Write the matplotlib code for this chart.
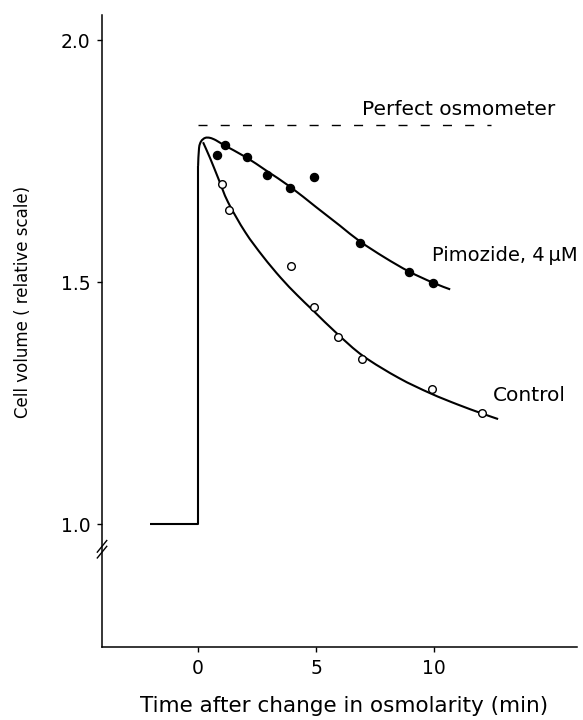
import matplotlib
matplotlib.use("Agg")
import matplotlib.pyplot as plt
from matplotlib.path import Path
from matplotlib.patches import PathPatch

# Measured cell volumes (relative scale) after the change in osmolarity
pim_t = [0.79, 1.12, 2.06, 2.91, 3.90, 4.90, 6.86, 8.93, 9.94]
pim_v = [1.762, 1.783, 1.758, 1.722, 1.695, 1.718, 1.580, 1.520, 1.499]

ctl_t = [1.00, 1.31, 3.94, 4.93, 5.92, 6.96, 9.93, 12.01]
ctl_v = [1.703, 1.650, 1.534, 1.449, 1.387, 1.342, 1.280, 1.229]

# Pre-change baseline and the rise at t = 0
base_t = [-2.03, 0.0, 0.0]
base_v = [1.0, 1.0, 1.74]

# Fitted curves
pim_fit_t = [0.0, 0.04, 0.13, 0.30, 0.51, 0.76, 1.10, 2.03, 2.9, 3.9, 5.0,
             6.0, 6.86, 7.9, 8.93, 9.94, 10.68]
pim_fit_v = [1.74, 1.777, 1.791, 1.798, 1.798, 1.793, 1.783, 1.758, 1.730,
             1.697, 1.655, 1.617, 1.584, 1.551, 1.522, 1.499, 1.485]

ctl_fit_t = [0.21, 0.51, 0.85, 1.27, 2.0, 2.75, 3.5, 4.2, 4.9, 5.9, 7.0,
             8.5, 9.85, 11.0, 12.0, 12.71]
ctl_fit_v = [1.789, 1.756, 1.715, 1.665, 1.603, 1.553, 1.509, 1.473, 1.440,
             1.393, 1.347, 1.302, 1.270, 1.247, 1.229, 1.217]

# Volume expected for an ideal osmometer
osm_t = [0.0, 12.4]
osm_v = [1.824, 1.824]

x_ticks = [0, 5, 10]
y_ticks = [1.0, 1.5, 2.0]
y_tick_labels = ["1.0", "1.5", "2.0"]

plt.rcParams["font.family"] = ["DejaVu Sans"]


def smooth_path(xs, ys):
    """Catmull-Rom curve through the given knots, as cubic Bezier segments."""
    pts = list(zip(xs, ys))
    verts = [pts[0]]
    codes = [Path.MOVETO]
    n = len(pts)
    for i in range(n - 1):
        p0 = pts[i - 1] if i > 0 else pts[i]
        p1 = pts[i]
        p2 = pts[i + 1]
        p3 = pts[i + 2] if i + 2 < n else pts[i + 1]
        c1 = (p1[0] + (p2[0] - p0[0]) / 6.0, p1[1] + (p2[1] - p0[1]) / 6.0)
        c2 = (p2[0] - (p3[0] - p1[0]) / 6.0, p2[1] - (p3[1] - p1[1]) / 6.0)
        verts += [c1, c2, p2]
        codes += [Path.CURVE4] * 3
    return Path(verts, codes)


fig = plt.figure(figsize=(5.83, 7.2), dpi=100)
ax = fig.add_axes([0.175, 0.1014, 0.815, 0.8778])

lw = 1.5
ax.plot(base_t, base_v, color="black", lw=lw, solid_capstyle="butt")
for tt, vv in ((pim_fit_t, pim_fit_v), (ctl_fit_t, ctl_fit_v)):
    ax.add_patch(PathPatch(smooth_path(tt, vv), fill=False, edgecolor="black",
                           lw=lw, joinstyle="round", capstyle="butt"))
ax.plot(osm_t, osm_v, color="black", lw=1.0, dashes=(6.5, 9.5))

ax.plot(pim_t, pim_v, "o", color="black", ms=5.8, zorder=5)
ax.plot(ctl_t, ctl_v, "o", mfc="white", mec="black", mew=1.0, ms=5.5, zorder=5)

ax.text(6.95, 1.838, "Perfect osmometer", fontsize=14.5, ha="left", va="bottom")
ax.text(9.9, 1.556, "Pimozide, 4\u2009\u00b5M", fontsize=14, ha="left", va="center")
ax.text(12.5, 1.266, "Control", fontsize=14.5, ha="left", va="center")

ax.set_xlim(-4.07, 16.06)
ax.set_ylim(0.746, 2.052)
ax.set_xticks(x_ticks)
ax.set_yticks(y_ticks)
ax.set_yticklabels(y_tick_labels)
ax.tick_params(direction="out", length=3.5, width=1.0, labelsize=13.5, pad=5)

for side in ("top", "right"):
    ax.spines[side].set_visible(False)
for side in ("left", "bottom"):
    ax.spines[side].set_linewidth(1.1)

# Axis break marks on the y axis below 1.0
for dy in (-0.006, 0.006):
    ax.plot([-4.07 - 0.2, -4.07 + 0.2], [0.948 + dy - 0.012, 0.948 + dy + 0.012],
            color="black", lw=1.0, clip_on=False)

ax.set_xlabel("Time after change in osmolarity (min)", fontsize=15.5)
ax.xaxis.set_label_coords(0.51, -0.078)
ax.set_ylabel("Cell volume ( relative scale)", fontsize=12)
ax.yaxis.set_label_coords(-0.148, 0.546)

fig.savefig("out.png", dpi=100)
